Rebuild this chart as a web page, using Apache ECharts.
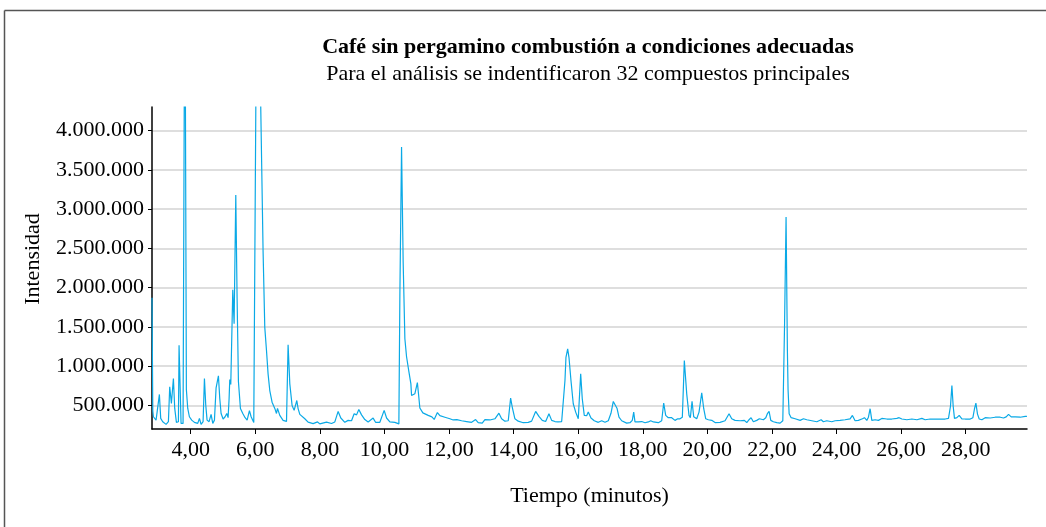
<!DOCTYPE html>
<html>
<head>
<meta charset="utf-8">
<script src="https://cdn.jsdelivr.net/npm/echarts@6/dist/echarts.min.js"></script>
<style>
  html, body { margin: 0; padding: 0; background: #fff; }
  #chart { width: 1046px; height: 527px; }
</style>
</head>
<body>
<div id="chart"></div>
<script>
var tiempo = [
  2.800, 2.825, 2.843, 2.926, 2.977, 3.029, 3.070, 3.132, 3.236, 3.308,
  3.349, 3.401, 3.463, 3.504, 3.556, 3.618, 3.638, 3.669, 3.700, 3.762,
  3.800, 3.830, 3.865, 3.907, 3.958, 4.030, 4.114, 4.217, 4.269, 4.320,
  4.382, 4.424, 4.465, 4.506, 4.568, 4.630, 4.682, 4.734, 4.785, 4.816,
  4.857, 4.899, 4.940, 5.002, 5.064, 5.116, 5.157, 5.188, 5.209, 5.240,
  5.302, 5.343, 5.395, 5.436, 5.477, 5.539, 5.612, 5.684, 5.746, 5.818,
  5.870, 5.952, 5.994, 6.020, 6.090, 6.160, 6.240, 6.293, 6.346, 6.395,
  6.448, 6.519, 6.603, 6.655, 6.687, 6.758, 6.860, 6.966, 7.015, 7.068,
  7.139, 7.202, 7.285, 7.325, 7.378, 7.533, 7.635, 7.790, 7.927, 7.998,
  8.205, 8.360, 8.462, 8.565, 8.648, 8.772, 8.875, 8.980, 9.061, 9.135,
  9.206, 9.290, 9.392, 9.494, 9.649, 9.724, 9.857, 9.990, 10.065, 10.167,
  10.322, 10.446, 10.477, 10.529, 10.579, 10.632, 10.684, 10.756, 10.818, 10.839,
  10.889, 10.942, 11.019, 11.056, 11.096, 11.189, 11.354, 11.468, 11.540, 11.639,
  11.716, 11.871, 12.026, 12.128, 12.243, 12.389, 12.544, 12.699, 12.823, 12.903,
  13.027, 13.111, 13.266, 13.421, 13.545, 13.628, 13.731, 13.833, 13.907, 13.957,
  14.040, 14.143, 14.298, 14.453, 14.558, 14.682, 14.784, 14.887, 14.992, 15.094,
  15.178, 15.280, 15.373, 15.488, 15.537, 15.590, 15.621, 15.674, 15.714, 15.776,
  15.847, 15.922, 16.002, 16.077, 16.126, 16.188, 16.263, 16.312, 16.396, 16.498,
  16.622, 16.727, 16.830, 16.932, 17.015, 17.087, 17.139, 17.201, 17.263, 17.347,
  17.502, 17.604, 17.675, 17.719, 17.759, 17.862, 17.967, 18.069, 18.172, 18.246,
  18.327, 18.482, 18.586, 18.648, 18.710, 18.791, 18.896, 18.998, 19.082, 19.153,
  19.225, 19.287, 19.361, 19.432, 19.473, 19.526, 19.578, 19.671, 19.742, 19.826,
  19.888, 19.950, 20.031, 20.136, 20.238, 20.393, 20.548, 20.672, 20.755, 20.858,
  21.013, 21.146, 21.221, 21.292, 21.354, 21.425, 21.530, 21.611, 21.664, 21.735,
  21.810, 21.859, 21.912, 21.965, 22.045, 22.151, 22.253, 22.337, 22.390, 22.438,
  22.479, 22.500, 22.533, 22.595, 22.719, 22.874, 22.976, 23.080, 23.235, 23.390,
  23.524, 23.594, 23.699, 23.854, 23.956, 24.111, 24.266, 24.421, 24.493, 24.576,
  24.678, 24.803, 24.865, 24.939, 24.989, 25.041, 25.094, 25.196, 25.298, 25.404,
  25.559, 25.714, 25.869, 25.940, 26.024, 26.179, 26.334, 26.489, 26.644, 26.746,
  26.901, 27.056, 27.211, 27.366, 27.468, 27.530, 27.574, 27.614, 27.654, 27.729,
  27.800, 27.883, 27.986, 28.141, 28.224, 28.274, 28.317, 28.367, 28.420, 28.503,
  28.605, 28.760, 28.915, 29.070, 29.172, 29.256, 29.328, 29.411, 29.535, 29.690,
  29.845, 29.898
]

// intensidad (los picos que salen del rango están estimados)
var intensidad = [
  1870000, 430000, 356000, 313000, 293000, 640000, 335000, 293000, 259000, 293000,
  737000, 525000, 843000, 462000, 284000, 293000, 1266000, 1245000, 271000, 271000,
  4500000, 5000000, 700000, 462000, 356000, 313000, 284000, 271000, 335000, 259000,
  293000, 843000, 504000, 313000, 293000, 386000, 271000, 313000, 725000, 716000,
  877000, 589000, 398000, 327000, 356000, 398000, 344000, 589000, 830000, 767000,
  1973000, 1541000, 3179000, 1859000, 801000, 462000, 398000, 344000, 313000, 433000,
  356000, 284000, 271000, 4600000, 5400000, 4500000, 2468000, 1494000, 1200000, 902000,
  690000, 542000, 462000, 398000, 462000, 373000, 310000, 297000, 1271000, 775000,
  500000, 437000, 563000, 460000, 386000, 331000, 288000, 268000, 290000, 265000,
  288000, 270000, 290000, 424000, 340000, 285000, 310000, 305000, 395000, 380000,
  449000, 380000, 320000, 290000, 339000, 285000, 285000, 437000, 340000, 290000,
  285000, 265000, 1900000, 3792000, 2319000, 1350000, 1120000, 930000, 775000, 627000,
  640000, 650000, 790000, 640000, 468000, 405000, 373000, 355000, 322000, 410000,
  370000, 350000, 330000, 315000, 320000, 305000, 295000, 285000, 320000, 280000,
  275000, 320000, 315000, 330000, 402000, 330000, 300000, 305000, 593000, 480000,
  330000, 300000, 280000, 285000, 300000, 424000, 360000, 310000, 295000, 395000,
  310000, 295000, 290000, 295000, 320000, 817000, 1113000, 1220000, 1113000, 817000,
  521000, 415000, 331000, 902000, 585000, 373000, 370000, 415000, 340000, 305000,
  285000, 305000, 285000, 305000, 400000, 551000, 545000, 465000, 350000, 305000,
  275000, 280000, 310000, 415000, 290000, 290000, 295000, 280000, 290000, 305000,
  290000, 280000, 305000, 529000, 373000, 344000, 344000, 310000, 330000, 330000,
  350000, 1071000, 648000, 373000, 344000, 551000, 355000, 330000, 415000, 661000,
  458000, 330000, 318000, 310000, 282000, 285000, 305000, 395000, 330000, 310000,
  305000, 310000, 282000, 318000, 344000, 292000, 310000, 330000, 305000, 318000,
  344000, 395000, 424000, 310000, 292000, 282000, 275000, 305000, 1500000, 2900000,
  1198000, 700000, 395000, 344000, 330000, 310000, 330000, 318000, 305000, 292000,
  318000, 292000, 305000, 292000, 305000, 310000, 318000, 330000, 373000, 305000,
  310000, 330000, 344000, 310000, 350000, 458000, 310000, 318000, 310000, 335000,
  327000, 327000, 335000, 344000, 327000, 318000, 327000, 318000, 335000, 318000,
  327000, 327000, 327000, 327000, 335000, 490000, 754000, 490000, 335000, 344000,
  373000, 330000, 327000, 327000, 344000, 458000, 529000, 390000, 327000, 318000,
  344000, 340000, 350000, 350000, 340000, 355000, 386000, 355000, 355000, 350000,
  360000, 360000
]

var fuente = 'Liberation Serif'

function miles(v) {
  return String(Math.round(v)).replace(/\B(?=(\d{3})+(?!\d))/g, '.')
}

var chart = echarts.init(document.getElementById('chart'))

var option = {
  animation: false,
  backgroundColor: '#fff',
  title: {
    text: 'Café sin pergamino combustión a condiciones adecuadas',
    subtext: 'Para el análisis se indentificaron 32 compuestos principales',
    left: 583,
    top: 31,
    textAlign: 'center',
    itemGap: 5,
    textStyle: { fontFamily: fuente, fontSize: 22, fontWeight: 'bold', color: '#000' },
    subtextStyle: { fontFamily: fuente, fontSize: 22, color: '#000' }
  },
  graphic: [
    { type: 'line', shape: { x1: 4.5, y1: 10.5, x2: 1046, y2: 10.5 }, style: { stroke: '#555', lineWidth: 1.5 } },
    { type: 'line', shape: { x1: 4.5, y1: 10.5, x2: 4.5, y2: 527 }, style: { stroke: '#555', lineWidth: 1.5 } },
    {
      type: 'text',
      x: 33,
      y: 259,
      rotation: Math.PI / 2,
      style: {
        text: 'Intensidad',
        font: '22px "Liberation Serif"',
        fill: '#000',
        align: 'center',
        verticalAlign: 'middle'
      }
    }
  ],
  grid: {
    left: 152,
    right: 19,
    top: 107,
    bottom: 98
  },
  xAxis: {
    type: 'value',
    min: 2.8,
    max: 29.9,
    splitNumber: 13,
    name: 'Tiempo (minutos)',
    nameLocation: 'middle',
    nameGap: 56,
    nameTextStyle: { fontFamily: fuente, fontSize: 22, color: '#000' },
    axisLine: { lineStyle: { color: '#000', width: 1.5 } },
    axisTick: { length: 5, lineStyle: { color: '#000' } },
    splitLine: { show: false },
    axisLabel: {
      showMinLabel: false,
      showMaxLabel: false,
      margin: 10,
      fontFamily: fuente,
      fontSize: 22,
      color: '#000',
      formatter: function (v) {
        if (Math.abs(v / 2 - Math.round(v / 2)) > 1e-6) return ''
        return v.toFixed(2).replace('.', ',')
      }
    }
  },
  yAxis: {
    type: 'value',
    min: 200000,
    max: 4300000,
    splitNumber: 8,
    axisLine: { show: true, lineStyle: { color: '#000', width: 1.5 } },
    axisTick: { show: true, length: 4, lineStyle: { color: '#000' } },
    splitLine: { show: true, showMinLine: false, showMaxLine: false, lineStyle: { color: '#d3d3d3', width: 1.5 } },
    axisLabel: {
      showMinLabel: false,
      showMaxLabel: false,
      margin: 8,
      fontFamily: fuente,
      fontSize: 22,
      color: '#000',
      formatter: function (v) {
        if (v % 500000 !== 0) return ''
        return miles(v)
      }
    }
  },
  series: [{
    type: 'line',
    data: tiempo.map(function (t, i) { return [t, intensidad[i]] }),
    symbol: 'none',
    clip: true,
    lineStyle: { color: '#0aa9e6', width: 1.2 }
  }]
}

chart.setOption(option)
</script>
</body>
</html>
